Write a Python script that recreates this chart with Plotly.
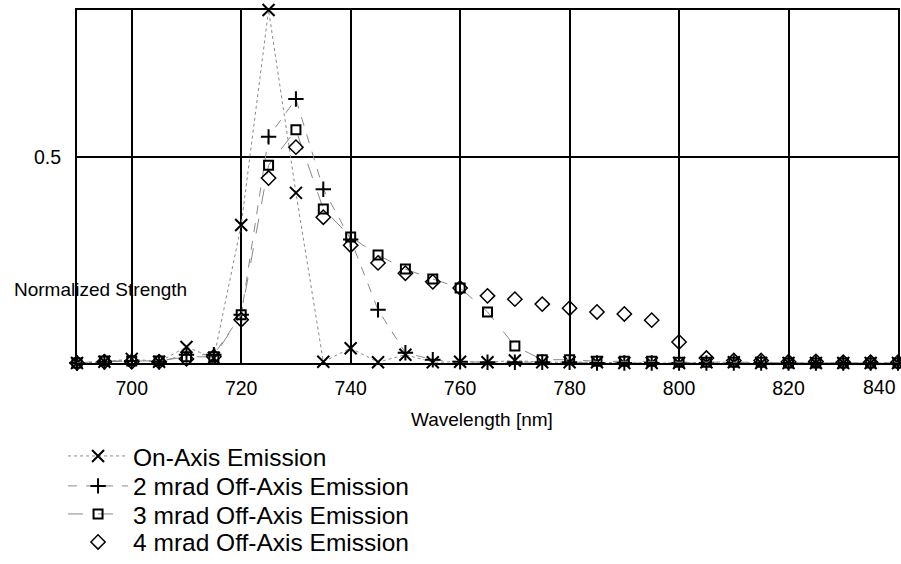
import plotly.graph_objects as go

wavelength = [690, 695, 700, 705, 710, 715, 720, 725, 730, 735, 740, 745, 750, 755, 760,
              765, 770, 775, 780, 785, 790, 795, 800, 805, 810, 815, 820, 825, 830, 835, 840]

on_axis = [0, 0.003, 0.01, 0.003, 0.039, 0.012, 0.335, 0.857, 0.413, 0.003, 0.036, 0.002,
           0.02, 0.002, 0.003, 0.002, 0.006, 0.002, 0.002, 0.002, 0, 0, 0, 0.002, 0.002,
           0, 0, 0, 0, 0, 0]
mrad2 = [0, 0.003, 0.005, 0.003, 0.02, 0.02, 0.117, 0.549, 0.641, 0.422, 0.30, 0.129,
         0.025, 0.008, 0.003, 0.002, 0.002, 0.002, 0.002, 0, 0, 0, 0, 0, 0, 0, 0, 0, 0, 0, 0]
mrad3 = [0, 0.005, 0.005, 0.005, 0.015, 0.015, 0.117, 0.48, 0.566, 0.374, 0.306, 0.262,
         0.228, 0.204, 0.182, 0.124, 0.041, 0.008, 0.008, 0.004, 0.004, 0.004, 0.002,
         0.002, 0.002, 0.002, 0, 0, 0, 0, 0]
mrad4 = [0, 0.003, 0.003, 0.003, 0.01, 0.015, 0.105, 0.449, 0.524, 0.354, 0.286, 0.243,
         0.218, 0.197, 0.182, 0.163, 0.155, 0.143, 0.133, 0.124, 0.119, 0.104, 0.051,
         0.012, 0.006, 0.006, 0.003, 0.004, 0.002, 0.002, 0.002]

series_names = ["On-Axis Emission", "2 mrad Off-Axis Emission",
                "3 mrad Off-Axis Emission", "4 mrad Off-Axis Emission"]

x_tickvals = [700, 720, 740, 760, 780, 800, 820]
y_tickvals = [0.5]

FONT = "Liberation Sans, Arial, sans-serif"
TICK_SIZE = 19.5
TITLE_SIZE = 19
LEG_SIZE = 24.5

fig = go.Figure()
fig.add_trace(go.Scatter(
    x=wavelength, y=on_axis, name=series_names[0], mode="lines+markers", legend="legend",
    line=dict(color="#8a8a8a", width=1, dash="dot"),
    marker=dict(symbol="x-thin-open", size=12, color="black", line=dict(color="black", width=2)),
    cliponaxis=False))
fig.add_trace(go.Scatter(
    x=wavelength, y=mrad2, name=series_names[1], mode="lines+markers", legend="legend2",
    line=dict(color="#8a8a8a", width=1, dash="dash"),
    marker=dict(symbol="cross-thin-open", size=11, color="black", line=dict(color="black", width=2)),
    cliponaxis=False))
fig.add_trace(go.Scatter(
    x=wavelength, y=mrad3, name=series_names[2], mode="lines+markers", legend="legend3",
    line=dict(color="#8a8a8a", width=1, dash="longdash"),
    marker=dict(symbol="square-open", size=9, color="black", line=dict(color="black", width=2)),
    cliponaxis=False))
fig.add_trace(go.Scatter(
    x=wavelength, y=mrad4, name=series_names[3], mode="markers", legend="legend4",
    marker=dict(symbol="diamond-open", size=11, color="black", line=dict(color="black", width=1.5)),
    cliponaxis=False))

# row centres of legend entries (paper coordinates, plot area is 353 px tall)
leg_rows = [-0.2635, -0.3484, -0.4278, -0.5071]


def leg(yc):
    return dict(x=-0.017, y=yc, xanchor="left", yanchor="middle",
                font=dict(size=LEG_SIZE, family=FONT), itemwidth=60,
                bgcolor="rgba(0,0,0,0)", borderwidth=0)


fig.update_layout(
    width=901, height=564,
    margin=dict(l=77, r=3, t=10, b=201, autoexpand=False),
    paper_bgcolor="white", plot_bgcolor="white",
    font=dict(family=FONT, color="black"),
    showlegend=True,
    legend=leg(leg_rows[0]),
    legend2=leg(leg_rows[1]),
    legend3=leg(leg_rows[2]),
    legend4=leg(leg_rows[3]),
    xaxis=dict(range=[690, 840], tickvals=x_tickvals, showgrid=True,
               gridcolor="black", gridwidth=1.5, showline=True, linecolor="black",
               linewidth=2, mirror=True, zeroline=False, ticks="", automargin=False,
               ticklabelstandoff=7, tickfont=dict(size=TICK_SIZE, family=FONT)),
    yaxis=dict(range=[0, 0.857], tickvals=y_tickvals, ticktext=["0.5"], showgrid=True,
               gridcolor="black", gridwidth=1.5, showline=True, linecolor="black",
               linewidth=2, mirror=True, zeroline=False, ticks="", automargin=False,
               ticklabelstandoff=10, tickfont=dict(size=TICK_SIZE, family=FONT)),
    annotations=[
        dict(text="840", x=840, xref="x", y=-0.068, yref="paper", xanchor="right",
             yanchor="middle", showarrow=False, font=dict(size=TICK_SIZE, family=FONT)),
        dict(text="Wavelength [nm]", x=0.493, xref="paper", y=-0.161, yref="paper",
             xanchor="center", yanchor="middle", showarrow=False,
             font=dict(size=TITLE_SIZE, family=FONT)),
        dict(text="Normalized Strength", x=-0.0792, xref="paper", y=0.2068, yref="paper",
             xanchor="left", yanchor="middle", showarrow=False,
             font=dict(size=TITLE_SIZE, family=FONT)),
    ],
)

fig.write_html("out.html")
